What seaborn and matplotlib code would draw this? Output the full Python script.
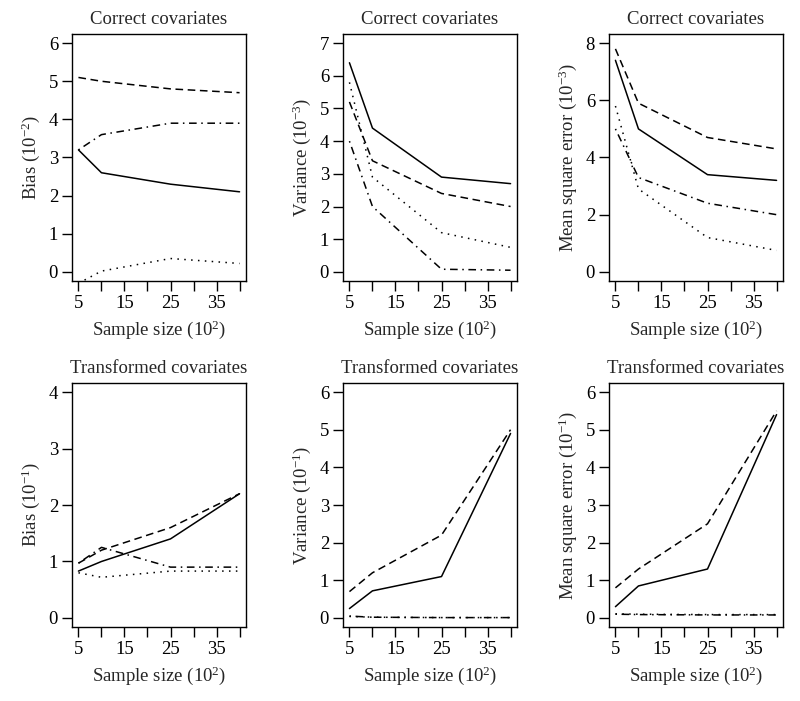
import numpy as np
import pandas as pd
import matplotlib
matplotlib.use('Agg')
import matplotlib.pyplot as plt
import seaborn as sns

# sample sizes (in 10^2)
sizes = [5, 10, 25, 40]

# Correct covariates
bias_c = {'solid': [3.2, 2.6, 2.3, 2.1], 'dashed': [5.1, 5.0, 4.8, 4.7],
          'dotted': [-0.3, 0.02, 0.35, 0.22], 'dashdot': [3.2, 3.6, 3.9, 3.9]}
var_c = {'solid': [6.4, 4.4, 2.9, 2.7], 'dashed': [5.2, 3.4, 2.4, 2.0],
         'dotted': [5.8, 2.9, 1.2, 0.75], 'dashdot': [4.0, 2.0, 0.08, 0.05]}
mse_c = {'solid': [7.4, 5.0, 3.4, 3.2], 'dashed': [7.8, 5.9, 4.7, 4.3],
         'dotted': [5.8, 2.9, 1.2, 0.75], 'dashdot': [5.0, 3.3, 2.4, 2.0]}

# Transformed covariates
bias_t = {'solid': [0.83, 1.0, 1.4, 2.2], 'dashed': [0.97, 1.2, 1.6, 2.2],
          'dotted': [0.8, 0.72, 0.83, 0.83], 'dashdot': [0.97, 1.25, 0.9, 0.9]}
var_t = {'solid': [0.25, 0.72, 1.1, 4.9], 'dashed': [0.7, 1.2, 2.2, 5.0],
         'dotted': [0.04, 0.02, 0.01, 0.01], 'dashdot': [0.05, 0.02, 0.01, 0.01]}
mse_t = {'solid': [0.3, 0.85, 1.3, 5.4], 'dashed': [0.8, 1.3, 2.5, 5.5],
         'dotted': [0.11, 0.1, 0.09, 0.09], 'dashdot': [0.1, 0.09, 0.08, 0.08]}

titles = ['Correct covariates', 'Transformed covariates']
ylabels = [['Bias ($\\mathregular{10^{-2}}$)', 'Variance ($\\mathregular{10^{-3}}$)',
            'Mean square error ($\\mathregular{10^{-3}}$)'],
           ['Bias ($\\mathregular{10^{-1}}$)', 'Variance ($\\mathregular{10^{-1}}$)',
            'Mean square error ($\\mathregular{10^{-1}}$)']]
yticks = [[range(0, 7), range(0, 8), range(0, 9, 2)],
          [range(0, 5), range(0, 7), range(0, 7)]]
panels = [[bias_c, var_c, mse_c], [bias_t, var_t, mse_t]]

sns.set_theme(style='ticks')
plt.rcParams['font.family'] = ['Liberation Serif', 'DejaVu Serif']
plt.rcParams['mathtext.fontset'] = 'stix'
plt.rcParams['axes.linewidth'] = 1.0
plt.rcParams['axes.edgecolor'] = 'black'

dashes = {'solid': '', 'dashed': (5, 3), 'dotted': (1, 3.5), 'dashdot': (1, 3, 5, 3)}

fig = plt.figure(figsize=(8, 7.01), dpi=100)
W, H = 800, 701
lefts = [72, 343, 609]
tops = [34, 383]
heights = [247, 244]
width = 174

def ext(lo, hi):
    d = (hi - lo) * 0.04
    return lo - d, hi + d

for r in range(2):
    for c in range(3):
        ax = fig.add_axes([lefts[c] / W, 1 - (tops[r] + heights[r]) / H,
                           width / W, heights[r] / H])
        data = panels[r][c]
        df = pd.DataFrame([{'size': s, 'value': v, 'type': k}
                           for k, vals in data.items() for s, v in zip(sizes, vals)])
        sns.lineplot(data=df, x='size', y='value', style='type', dashes=dashes,
                     color='black', linewidth=1.1, legend=False, ax=ax)
        yt = list(yticks[r][c])
        ax.set_xlim(*ext(5, 40))
        ax.set_ylim(*ext(yt[0], yt[-1]))
        ax.set_xticks([5, 10, 15, 20, 25, 30, 35, 40])
        ax.set_xticklabels(['5', '', '15', '', '25', '', '35', ''])
        ax.set_yticks(yt)
        ax.tick_params(direction='out', length=7, width=1, labelsize=13.5, colors='black', pad=3)
        ax.set_title(titles[r], fontsize=13.5, pad=7)
        ax.set_xlabel('Sample size ($\\mathregular{10^{2}}$)', fontsize=13.5, labelpad=5)
        ax.set_ylabel(ylabels[r][c], fontsize=13.5, labelpad=5)
        for sp in ax.spines.values():
            sp.set_visible(True)
            sp.set_color('black')

fig.savefig('out.png', dpi=100)
